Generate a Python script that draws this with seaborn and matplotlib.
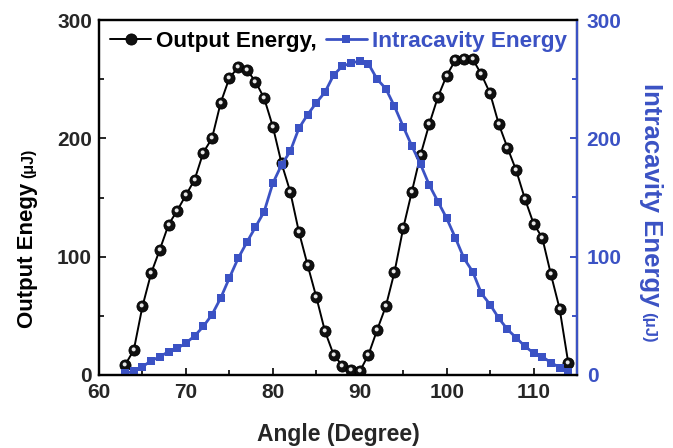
import numpy as np
import pandas as pd
import matplotlib
matplotlib.use("Agg")
import matplotlib.pyplot as plt
import seaborn as sns
from matplotlib.path import Path
from matplotlib.ticker import MultipleLocator

# ---------------- data ----------------
angle = list(range(63, 115))
output_energy = [8.5, 21, 58, 86, 106, 127, 139, 152, 165, 188,
                 200, 230, 251, 260, 258, 248, 234, 210, 179, 155,
                 121, 93, 66, 37, 17, 8, 4, 3, 17, 38,
                 58, 87, 124, 155, 186, 212, 235, 253, 266, 267,
                 267, 254, 238, 212, 192, 173, 149, 128, 116, 85,
                 56, 10]
intracavity_energy = [1.5, 3, 7, 12, 15.5, 19.7, 22.5, 27, 33, 41,
                      51, 65, 82, 98.5, 112, 125, 138, 162, 177.5, 189,
                      208.5, 220, 230, 239, 253.5, 261, 263.5, 265.5, 263, 250,
                      242, 227, 210, 193.5, 178, 160.6, 146.5, 132.5, 116, 98.5,
                      87.3, 69, 59.5, 48, 38.5, 31.5, 24.3, 18.6, 15.5, 10.5,
                      6.3, 2.8]
x_ticks = [60, 70, 80, 90, 100, 110]
y_ticks = [0, 100, 200, 300]

df = pd.DataFrame({"Angle": angle, "Output": output_energy,
                   "Intracavity": intracavity_energy})

BLUE = "#3b52c4"

sns.set_theme(style="ticks")
plt.rcParams["font.family"] = ["Liberation Sans", "DejaVu Sans"]
plt.rcParams["font.weight"] = "bold"

fig = plt.figure(figsize=(6.73, 4.48), dpi=100)
fig.patch.set_facecolor("white")
ax = fig.add_axes([99 / 673, 1 - 375 / 448, (577 - 99) / 673, (375 - 20) / 448])
ax.set_facecolor("white")

# Output energy (black spheres)
sns.lineplot(data=df, x="Angle", y="Output", ax=ax, color="black", lw=1.4,
             marker="o", markersize=8, markerfacecolor="#101010",
             markeredgecolor="black", markeredgewidth=0.6,
             label="Output Energy,", zorder=3)
# highlight on spheres
circ = Path.circle(center=(-0.15, 0.2), radius=0.36)
verts = np.vstack([circ.vertices, [[-1, -1], [1, 1]]])
codes = np.concatenate([circ.codes, [Path.MOVETO, Path.MOVETO]])
hl = Path(verts, codes)
sns.scatterplot(data=df, x="Angle", y="Output", ax=ax, marker=hl, s=64,
                color="#e8e8e8", linewidth=0, legend=False, zorder=4)

ax2 = ax.twinx()
sns.lineplot(data=df, x="Angle", y="Intracavity", ax=ax2, color=BLUE, lw=2.0,
             marker="s", markersize=6.3, markeredgewidth=0,
             markerfacecolor=BLUE, label="Intracavity Energy", zorder=2)

for a in (ax, ax2):
    a.set_xlim(60, 115)
    a.set_ylim(0, 300)

ax.set_xticks(x_ticks)
ax.xaxis.set_minor_locator(MultipleLocator(5))
ax.set_yticks(y_ticks)
ax.yaxis.set_minor_locator(MultipleLocator(50))
ax2.set_yticks(y_ticks)
ax2.yaxis.set_minor_locator(MultipleLocator(50))

ax.tick_params(axis="both", which="both", direction="in", width=1.4,
               labelsize=15, top=False, right=False)
ax.tick_params(which="major", length=5)
ax.tick_params(which="minor", length=3.5)
ax.tick_params(axis="x", pad=6)
ax.tick_params(axis="y", pad=5)
ax2.tick_params(axis="y", which="both", direction="in", width=1.4,
                colors=BLUE, labelsize=15, pad=7, left=False, right=True)
ax2.tick_params(which="major", length=5)
ax2.tick_params(which="minor", length=3.5)
for lab in ax.get_xticklabels() + ax.get_yticklabels() + ax2.get_yticklabels():
    lab.set_fontweight("bold")

for a in (ax, ax2):
    for s in a.spines.values():
        s.set_visible(True)
        s.set_linewidth(1.6)
        s.set_color("black")
ax2.spines["right"].set_color(BLUE)

ax.set_xlabel("Angle (Degree)", fontsize=16.5, fontweight="bold", labelpad=15)
ax.set_ylabel("")
ax2.set_ylabel("")

# legend
h1, l1 = ax.get_legend_handles_labels()
h2, l2 = ax2.get_legend_handles_labels()
if ax.get_legend():
    ax.get_legend().remove()
if ax2.get_legend():
    ax2.get_legend().remove()
leg = ax2.legend(h1 + h2, l1 + l2, loc="upper left", bbox_to_anchor=(0.0, 1.0),
                 ncol=2, frameon=False, handlelength=1.8, handletextpad=0.25,
                 columnspacing=0.4, borderpad=0.25, borderaxespad=0.25,
                 prop={"weight": "bold", "size": 16.2})
leg.get_texts()[0].set_color("black")
leg.get_texts()[1].set_color(BLUE)

# axis titles with smaller unit part
W, H = 673, 448
t1 = fig.text(33 / W, 1 - 328 / H, "Output Enegy", rotation=90,
              rotation_mode="anchor", ha="left", va="baseline",
              fontsize=16, fontweight="bold", color="black")
t2 = fig.text(644 / W, 1 - 83 / H, "Intracavity Energy", rotation=270,
              rotation_mode="anchor", ha="left", va="baseline",
              fontsize=18.5, fontweight="bold", color=BLUE)
fig.canvas.draw()
r = fig.canvas.get_renderer()
b1 = t1.get_window_extent(r)
fig.text(33 / W, (b1.y1 + 5) / H, "(\u03bcJ)", rotation=90,
         rotation_mode="anchor", ha="left", va="baseline",
         fontsize=11.5, fontweight="bold", color="black")
b2 = t2.get_window_extent(r)
fig.text(644 / W, (b2.y0 - 5) / H, "(\u03bcJ)", rotation=270,
         rotation_mode="anchor", ha="left", va="baseline",
         fontsize=12, fontweight="bold", color=BLUE)

fig.savefig("out.png", dpi=100, facecolor="white")
